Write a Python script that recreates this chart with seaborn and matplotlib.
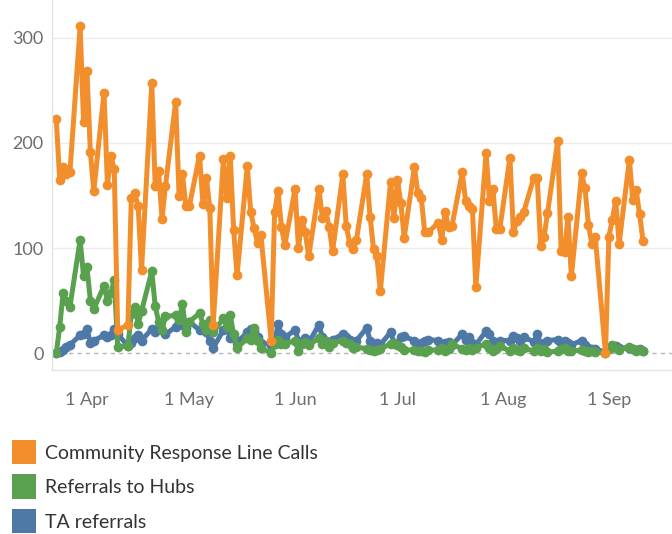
import pandas as pd
import matplotlib.pyplot as plt
import matplotlib.dates as mdates
from matplotlib.patches import Patch
import seaborn as sns

# weekday dates, 23 Mar - 11 Sep 2020
dates = pd.bdate_range('2020-03-23', '2020-09-11')

# Community Response Line Calls (one week per row)
calls = [223, 165, 177, 170, 172,
         311, 220, 268, 191, 154,
         248, 160, 188, 175, 22,
         27, 148, 152, 140, 79,
         257, 159, 173, 128, 159,
         239, 150, 170, 140, 140,
         188, 142, 167, 138, 27,
         185, 148, 188, 117, 74,
         178, 134, 119, 105, 112,
         12, 134, 154, 120, 103,
         156, 100, 127, 115, 92,
         156, 129, 135, 120, 97,
         170, 121, 105, 99, 108,
         170, 130, 99, 92, 59,
         163, 129, 165, 143, 110,
         177, 152, 148, 115, 115,
         124, 108, 134, 120, 121,
         172, 145, 140, 137, 63,
         190, 145, 156, 118, 118,
         186, 115, 126, 130, 134,
         167, 167, 102, 111, 133,
         202, 97, 96, 130, 73,
         171, 157, 122, 104, 111,
         0, 111, 127, 145, 104,
         184, 146, 155, 132, 107]

# Referrals to Hubs
hubs = [0, 25, 57, 50, 44,
        108, 73, 82, 50, 42,
        64, 50, 57, 70, 6,
        7, 37, 44, 28, 40,
        78, 45, 30, 22, 35,
        36, 32, 47, 20, 30,
        38, 28, 22, 32, 20,
        33, 25, 36, 18, 5,
        14, 13, 24, 12, 5,
        0, 9, 13, 9, 9,
        12, 2, 9, 11, 8,
        14, 9, 12, 6, 10,
        12, 10, 9, 5, 6,
        4, 3, 2, 3, 4,
        9, 10, 8, 6, 3,
        3, 2, 2, 1, 3,
        3, 5, 2, 4, 9,
        4, 3, 5, 3, 5,
        9, 5, 2, 4, 7,
        2, 5, 3, 2, 5,
        2, 5, 2, 4, 1,
        2, 4, 5, 2, 2,
        3, 2, 1, 2, 1,
        0, 4, 8, 5, 3,
        6, 4, 2, 3, 2]

# TA referrals
ta = [0, 1, 3, 6, 8,
      17, 18, 23, 10, 12,
      17, 15, 17, 23, 18,
      7, 10, 14, 17, 12,
      23, 20, 25, 22, 18,
      25, 30, 27, 24, 30,
      22, 25, 20, 12, 5,
      22, 25, 14, 15, 10,
      20, 23, 21, 15, 10,
      8, 9, 28, 18, 15,
      22, 12, 10, 14, 10,
      27, 15, 12, 9, 13,
      18, 15, 13, 10, 12,
      24, 12, 9, 10, 8,
      20, 10, 9, 15, 16,
      12, 8, 10, 12, 13,
      12, 9, 10, 11, 8,
      18, 13, 15, 10, 8,
      21, 18, 12, 10, 12,
      12, 16, 14, 12, 15,
      11, 18, 9, 10, 12,
      13, 10, 12, 10, 8,
      12, 8, 5, 4, 4,
      1, 5, 6, 7, 5,
      5, 4, 3, 4, 2]

series = ['Community Response Line Calls', 'Referrals to Hubs', 'TA referrals']
colors = ['#F28E2B', '#59A14F', '#4E79A7']

df = pd.concat([
    pd.DataFrame({'date': dates, 'value': calls, 'series': series[0]}),
    pd.DataFrame({'date': dates, 'value': hubs, 'series': series[1]}),
    pd.DataFrame({'date': dates, 'value': ta, 'series': series[2]}),
])

sns.set_style('white')
plt.rcParams['font.family'] = ['Lato', 'DejaVu Sans']

fig = plt.figure(figsize=(6.72, 5.34), dpi=100)
ax = fig.add_axes([52 / 672, 1 - 370 / 534, 1 - 52 / 672, 370 / 534])

# grid lines
for v in [100, 200, 300]:
    ax.axhline(v, color='#ececec', lw=1, zorder=0)
ax.axhline(0, color='#b5b5b5', lw=1, ls=(0, (3, 3)), zorder=0)

# draw so that orange is on top
sns.lineplot(data=df, x='date', y='value', hue='series',
             hue_order=series[::-1], palette=dict(zip(series, colors)),
             marker='o', markersize=7, markeredgewidth=0,
             linewidth=3.6, legend=False, ax=ax)

ax.set_xlim(pd.Timestamp('2020-03-21 18:00'), pd.Timestamp('2020-09-19 12:00'))
ax.set_ylim(-16, 336)
ax.set_yticks([0, 100, 200, 300])
ax.xaxis.set_major_locator(mdates.MonthLocator())
ax.xaxis.set_major_formatter(mdates.DateFormatter('%-d %b'))
ax.set_xlabel('')
ax.set_ylabel('')

for s in ['top', 'right']:
    ax.spines[s].set_visible(False)
for s in ['left', 'bottom']:
    ax.spines[s].set_color('#e2e2e2')
    ax.spines[s].set_linewidth(1)

ax.tick_params(axis='y', length=0, pad=6, labelsize=13, labelcolor='#6e6e6e')
ax.tick_params(axis='x', length=5, width=1, color='#e2e2e2', pad=11,
               labelsize=13, labelcolor='#6e6e6e')

handles = [Patch(facecolor=c, edgecolor='none') for c in colors]
fig.legend(handles, series, loc='upper left', bbox_to_anchor=(12 / 672, 1 - 440 / 534),
           frameon=False, fontsize=14, handlelength=1.25, handleheight=1.55,
           handletextpad=0.45, labelspacing=0.52, borderpad=0, borderaxespad=0,
           labelcolor='#333333')

fig.savefig('out.png', dpi=100)
